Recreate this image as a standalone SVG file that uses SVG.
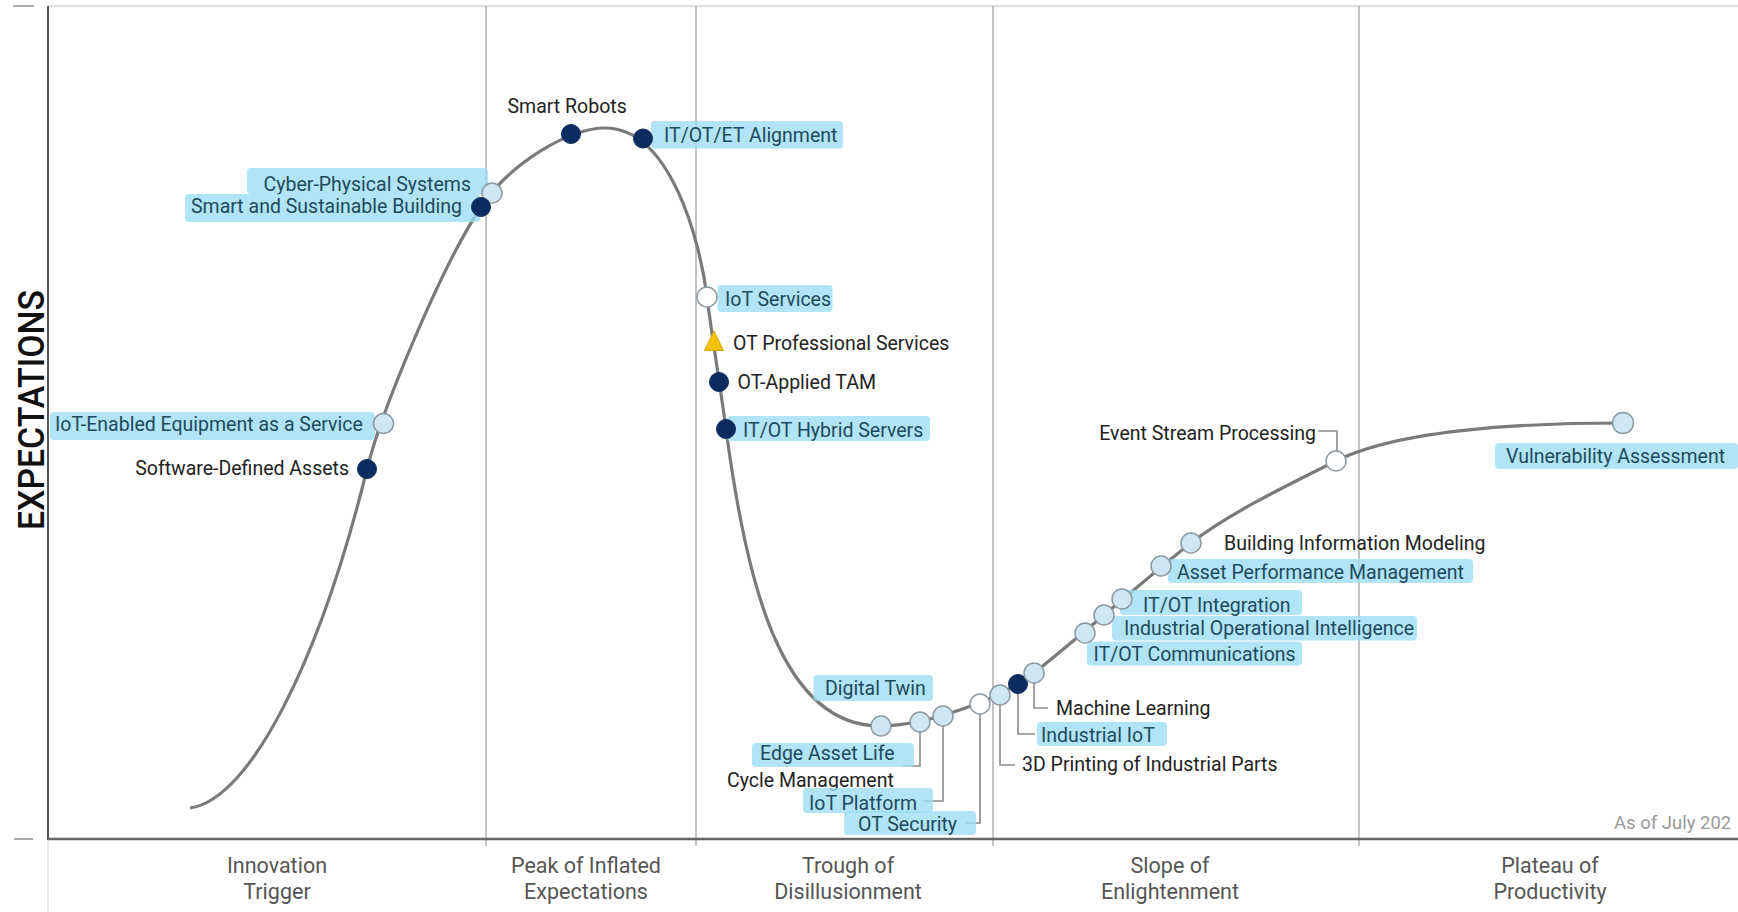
<svg xmlns="http://www.w3.org/2000/svg" width="1738" height="912" viewBox="0 0 1738 912">
<style>
text{font-family:Roboto,"Liberation Sans",sans-serif;font-size:19.5px}
.b{fill:#222}
.h{fill:#1e4a5e}
.box{fill:#9cddf4;fill-opacity:0.8}
.dk{fill:#0c2c60;stroke:#0c2c60;stroke-width:1}
.lt{fill:#cfe6f4;stroke:#8e9aa2;stroke-width:1.5}
.wh{fill:#ffffff;stroke:#8e9aa2;stroke-width:1.5}
.ld{fill:none;stroke:#8a8a8a;stroke-width:1.6}
.ph{fill:#555;font-size:21.5px;text-anchor:middle}
.grid{stroke:#b0b0b0;stroke-width:1.5}
</style>
<rect width="1738" height="912" fill="#fff"/>
<g id="frame">
<line x1="48" y1="6" x2="1738" y2="6" stroke="#e0e0e0" stroke-width="2.5"/>
<line x1="13" y1="6" x2="34" y2="6" stroke="#aaa" stroke-width="2"/>
<line x1="14" y1="839" x2="33" y2="839" stroke="#aaa" stroke-width="2"/>
<line x1="48" y1="840" x2="48" y2="912" stroke="#e6e6e6" stroke-width="2"/>
<line class="grid" x1="486" y1="6" x2="486" y2="846"/>
<line class="grid" x1="696" y1="6" x2="696" y2="846"/>
<line class="grid" x1="993" y1="6" x2="993" y2="846"/>
<line class="grid" x1="1359" y1="6" x2="1359" y2="846"/>
<line x1="48" y1="6" x2="48" y2="840" stroke="#555" stroke-width="2"/>
<line x1="48" y1="839" x2="1738" y2="839" stroke="#666" stroke-width="2.5"/>
<text x="0" y="0" transform="translate(44,410) rotate(-90)" text-anchor="middle" font-weight="500" fill="#111" textLength="240" lengthAdjust="spacingAndGlyphs" style="font-size:36px">EXPECTATIONS</text>
</g>
<g id="phases">
<text class="ph" x="277" y="873">Innovation</text><text class="ph" x="277" y="899">Trigger</text>
<text class="ph" x="586" y="873">Peak of Inflated</text><text class="ph" x="586" y="899">Expectations</text>
<text class="ph" x="848" y="873">Trough of</text><text class="ph" x="848" y="899">Disillusionment</text>
<text class="ph" x="1170" y="873">Slope of</text><text class="ph" x="1170" y="899">Enlightenment</text>
<text class="ph" x="1550" y="873">Plateau of</text><text class="ph" x="1550" y="899">Productivity</text>
<text x="1614" y="829" fill="#999" style="font-size:18.5px">As of July 202</text>
</g>
<g id="curve">
<path d="M190,808 C250,800 320,660 367,469 C381,411.7 441,267 481,207 C511,162 570,128 605,128 C670,128 700,240 707,297 C711.3,332 721,391 726,429 C746,580 780,727 881,726 C930,725.5 1004,697 1034,673 C1074,641.8 1151,574 1191,543 C1231,512 1291,483.5 1336,461 C1400,429 1530,423 1623,423" fill="none" stroke="#7a7a7a" stroke-width="3.2"/>
</g>
<g id="connectors">
<path class="ld" d="M920,731 V766 H903"/>
<path class="ld" d="M943,725 V801 H924"/>
<path class="ld" d="M980,713 V823 H965"/>
<path class="ld" d="M1000,704 V765 H1015"/>
<path class="ld" d="M1018,693 V734 H1035"/>
<path class="ld" d="M1034,682 V708 H1048"/>
<path class="ld" d="M1318,431 H1337 V452"/>
</g>
<g id="n-software-defined-assets"><circle class="dk" cx="367" cy="469" r="9.5"/><text class="b" x="349" y="474.5" text-anchor="end">Software-Defined Assets</text></g>
<g id="n-iot-enabled-equipment"><rect class="box" x="50" y="412" width="325" height="28" rx="4"/><circle class="lt" cx="383.5" cy="423.5" r="10"/><text class="h" x="55" y="431">IoT-Enabled Equipment as a Service</text></g>
<g id="n-cyber-physical"><rect class="box" x="247" y="168" width="241" height="26" rx="4"/><circle class="lt" cx="492" cy="193" r="10"/><text class="h" x="471" y="191" text-anchor="end">Cyber-Physical Systems</text></g>
<g id="n-smart-building"><rect class="box" x="185" y="194" width="295" height="28" rx="4"/><circle class="dk" cx="481" cy="207" r="9.5"/><text class="h" x="462" y="213" text-anchor="end">Smart and Sustainable Building</text></g>
<g id="n-smart-robots"><circle class="dk" cx="571" cy="134" r="9.5"/><text class="b" x="507.5" y="113">Smart Robots</text></g>
<g id="n-it-ot-et"><rect class="box" x="651" y="121" width="192" height="27.5" rx="4"/><circle class="dk" cx="643" cy="138.5" r="9.5"/><text class="h" x="664" y="142">IT/OT/ET Alignment</text></g>
<g id="n-iot-services"><rect class="box" x="717.5" y="285" width="115" height="27" rx="4"/><circle class="wh" cx="707" cy="297" r="10"/><text class="h" x="725" y="305.5">IoT Services</text></g>
<g id="n-ot-professional"><polygon points="704.5,350.5 723.5,350.5 714,331" fill="#f4c20d" stroke="#d9a800" stroke-width="1"/><text class="b" x="733" y="349.5">OT Professional Services</text></g>
<g id="n-ot-applied-tam"><circle class="dk" cx="719" cy="382" r="9.5"/><text class="b" x="737.5" y="389">OT-Applied TAM</text></g>
<g id="n-hybrid-servers"><rect class="box" x="727" y="416" width="203" height="25" rx="4"/><circle class="dk" cx="726" cy="429" r="9.5"/><text class="h" x="743" y="437">IT/OT Hybrid Servers</text></g>
<g id="n-digital-twin"><rect class="box" x="813.5" y="675" width="119.5" height="26" rx="4"/><circle class="lt" cx="881" cy="726" r="10"/><text class="h" x="825" y="695">Digital Twin</text></g>
<g id="n-edge-asset"><rect class="box" x="752" y="743" width="162" height="24" rx="4"/><circle class="lt" cx="920" cy="722" r="10"/><text class="h" x="760" y="760">Edge Asset Life</text><text class="b" x="727" y="787">Cycle Management</text></g>
<g id="n-iot-platform"><rect class="box" x="803" y="788" width="130" height="25" rx="4"/><circle class="lt" cx="943" cy="716" r="10"/><text class="h" x="809" y="810">IoT Platform</text></g>
<g id="n-ot-security"><rect class="box" x="844" y="811" width="132" height="24" rx="4"/><circle class="wh" cx="980" cy="704" r="10"/><text class="h" x="858" y="831">OT Security</text></g>
<g id="n-3d-printing"><circle class="lt" cx="1000" cy="695" r="10"/><text class="b" x="1022" y="771">3D Printing of Industrial Parts</text></g>
<g id="n-industrial-iot"><rect class="box" x="1037" y="722" width="130" height="24" rx="4"/><circle class="dk" cx="1018" cy="684" r="9.5"/><text class="h" x="1041" y="742">Industrial IoT</text></g>
<g id="n-machine-learning"><circle class="lt" cx="1034" cy="673" r="10"/><text class="b" x="1056" y="715">Machine Learning</text></g>
<g id="n-it-ot-comm"><rect class="box" x="1087" y="641.5" width="215" height="24" rx="4"/><circle class="lt" cx="1085" cy="633" r="10"/><text class="h" x="1093.5" y="660.5">IT/OT Communications</text></g>
<g id="n-industrial-op-intel"><rect class="box" x="1112" y="616" width="305" height="24.5" rx="4"/><circle class="lt" cx="1104" cy="615" r="10"/><text class="h" x="1124" y="635">Industrial Operational Intelligence</text></g>
<g id="n-it-ot-integration"><rect class="box" x="1120" y="590" width="182" height="25" rx="4"/><circle class="lt" cx="1122" cy="599" r="10"/><text class="h" x="1143" y="611.5">IT/OT Integration</text></g>
<g id="n-asset-performance"><rect class="box" x="1168" y="559" width="305" height="24" rx="4"/><circle class="lt" cx="1161" cy="566" r="10"/><text class="h" x="1177" y="579">Asset Performance Management</text></g>
<g id="n-bim"><circle class="lt" cx="1191" cy="543" r="10"/><text class="b" x="1224" y="550">Building Information Modeling</text></g>
<g id="n-event-stream"><circle class="wh" cx="1336" cy="461" r="10"/><text class="b" x="1316" y="440" text-anchor="end">Event Stream Processing</text></g>
<g id="n-vulnerability"><rect class="box" x="1495" y="443" width="243" height="26" rx="4"/><circle class="lt" cx="1623" cy="423" r="10.5"/><text class="h" x="1506" y="463">Vulnerability Assessment</text></g>
</svg>
